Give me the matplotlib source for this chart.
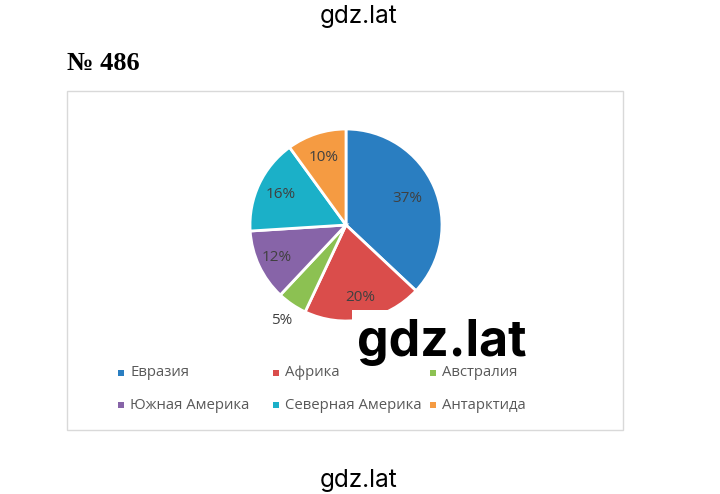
import matplotlib
matplotlib.use("Agg")
import matplotlib.pyplot as plt
import numpy as np
from matplotlib.patches import Rectangle

categories = ["Евразия", "Африка", "Австралия", "Южная Америка", "Северная Америка", "Антарктида"]
values = [37, 20, 5, 12, 16, 10]
colors = ["#2A7EC1", "#DA4D4B", "#8CC152", "#8764A8", "#1BB0C8", "#F59B42"]
label_dist = [0.70, 0.77, 1.20, 0.80, 0.75, 0.74]

W, H = 720, 494
fig = plt.figure(figsize=(W / 100, H / 100), dpi=100)
fig.patch.set_facecolor("white")

def fx(x): return x / W
def fy(y): return 1 - y / H

# chart border
fig.patches.append(Rectangle((fx(67), fy(430)), fx(623) - fx(67), fy(91) - fy(430),
                             transform=fig.transFigure, fill=False, edgecolor="#D9D9D9", lw=1))

# pie
cx, cy, r = 346, 225, 96
ax = fig.add_axes([fx(cx - r), fy(cy + r), 2 * r / W, 2 * r / H])
wedges, _ = ax.pie(values, colors=colors, startangle=90, counterclock=False,
                   wedgeprops=dict(edgecolor="white", linewidth=2))
ax.set_xlim(-1, 1)
ax.set_ylim(-1, 1)
ax.set_aspect("equal")
for w, v, d in zip(wedges, values, label_dist):
    ang = np.deg2rad((w.theta1 + w.theta2) / 2)
    ax.text(d * np.cos(ang), d * np.sin(ang), f"{v}%", ha="center", va="center",
            fontsize=11, color="#404040", family=["Open Sans", "DejaVu Sans"])

# legend
cols_x = [121, 276, 433]
rows_y = [373, 405]
for i, (cat, col) in enumerate(zip(categories, colors)):
    x = cols_x[i % 3]
    y = rows_y[i // 3]
    fig.patches.append(Rectangle((fx(x - 3), fy(y + 3)), 6 / W, 6 / H,
                                 transform=fig.transFigure, facecolor=col, edgecolor="none"))
    fig.text(fx(x + 9), fy(y), cat, ha="left", va="center", fontsize=10.7,
             color="#595959", family=["Open Sans", "DejaVu Sans"])

# header texts
fig.text(fx(359), fy(17), "gdz.lat", ha="center", va="center", fontsize=17.5,
         color="black", family=["Inter", "DejaVu Sans"])
fig.text(fx(359), fy(480), "gdz.lat", ha="center", va="center", fontsize=17.5,
         color="black", family=["Inter", "DejaVu Sans"])
fig.text(fx(67), fy(63), "№ 486", ha="left", va="center", fontsize=19, fontweight="bold",
         color="black", family=["Liberation Serif", "DejaVu Serif"])

# watermark with white patch behind it
fig.patches.append(Rectangle((fx(352), fy(334)), 70 / W, 24 / H,
                             transform=fig.transFigure, facecolor="white", edgecolor="none",
                             zorder=1.5))
fig.text(fx(442), fy(342), "gdz.lat", ha="center", va="center", fontsize=36, fontweight="bold",
         color="black", family=["Inter", "DejaVu Sans"], zorder=4)

fig.savefig("out.png", dpi=100)
